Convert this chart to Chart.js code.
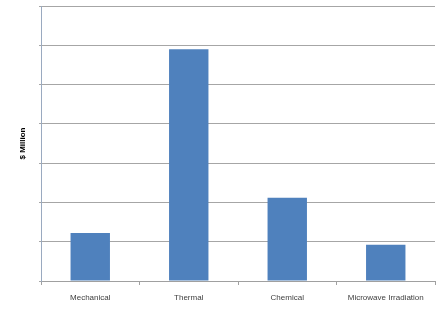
<!DOCTYPE html>
<html>
<head>
<meta charset="utf-8">
<script src="https://cdn.jsdelivr.net/npm/chart.js@4"></script>
<style>
  html, body { margin: 0; padding: 0; background: #fff; }
  #wrap { width: 442px; height: 312px; }
</style>
</head>
<body>
<div id="wrap"><canvas id="costChart"></canvas></div>
<script>
const categories = ['Mechanical', 'Thermal', 'Chemical', 'Microwave Irradiation'];
const costs = [12.2, 59, 21.2, 9.2];
const yMax = 70;
const yStep = 10;

const CHART = document.getElementById('costChart');

let barChart = new Chart(CHART, {
    type: 'bar',
    data: {
        labels: categories,
        datasets: [{
            label: '$ Million',
            data: costs,
            backgroundColor: '#4f81bd',
            barPercentage: 0.4,
            categoryPercentage: 1
        }]
    },
    options: {
        responsive: true,
        maintainAspectRatio: false,
        animation: false,
        layout: { padding: { left: 18, top: 6, right: 7, bottom: 0 } },
        plugins: {
            legend: { display: false },
            tooltip: { enabled: false }
        },
        scales: {
            x: {
                grid: {
                    display: true,
                    drawOnChartArea: false,
                    drawTicks: true,
                    tickLength: 4,
                    color: '#a0a0a0',
                    offset: true
                },
                border: { color: '#a0a0a0' },
                ticks: {
                    color: '#404040',
                    font: { family: 'Liberation Sans', size: 8 },
                    padding: 8,
                    maxRotation: 0
                },
                afterFit: (scale) => { scale.height = 31; }
            },
            y: {
                min: 0,
                max: yMax,
                ticks: { stepSize: yStep, display: false },
                grid: {
                    color: '#a6a6a6',
                    drawTicks: true,
                    tickLength: 2
                },
                border: { color: '#9aaac0' },
                title: {
                    display: true,
                    text: '$ Million',
                    color: '#000',
                    font: { family: 'Liberation Sans', size: 8, weight: 'bold' },
                    padding: 0
                },
                afterFit: (scale) => { scale.width = 23; }
            }
        }
    }
});
</script>
</body>
</html>
